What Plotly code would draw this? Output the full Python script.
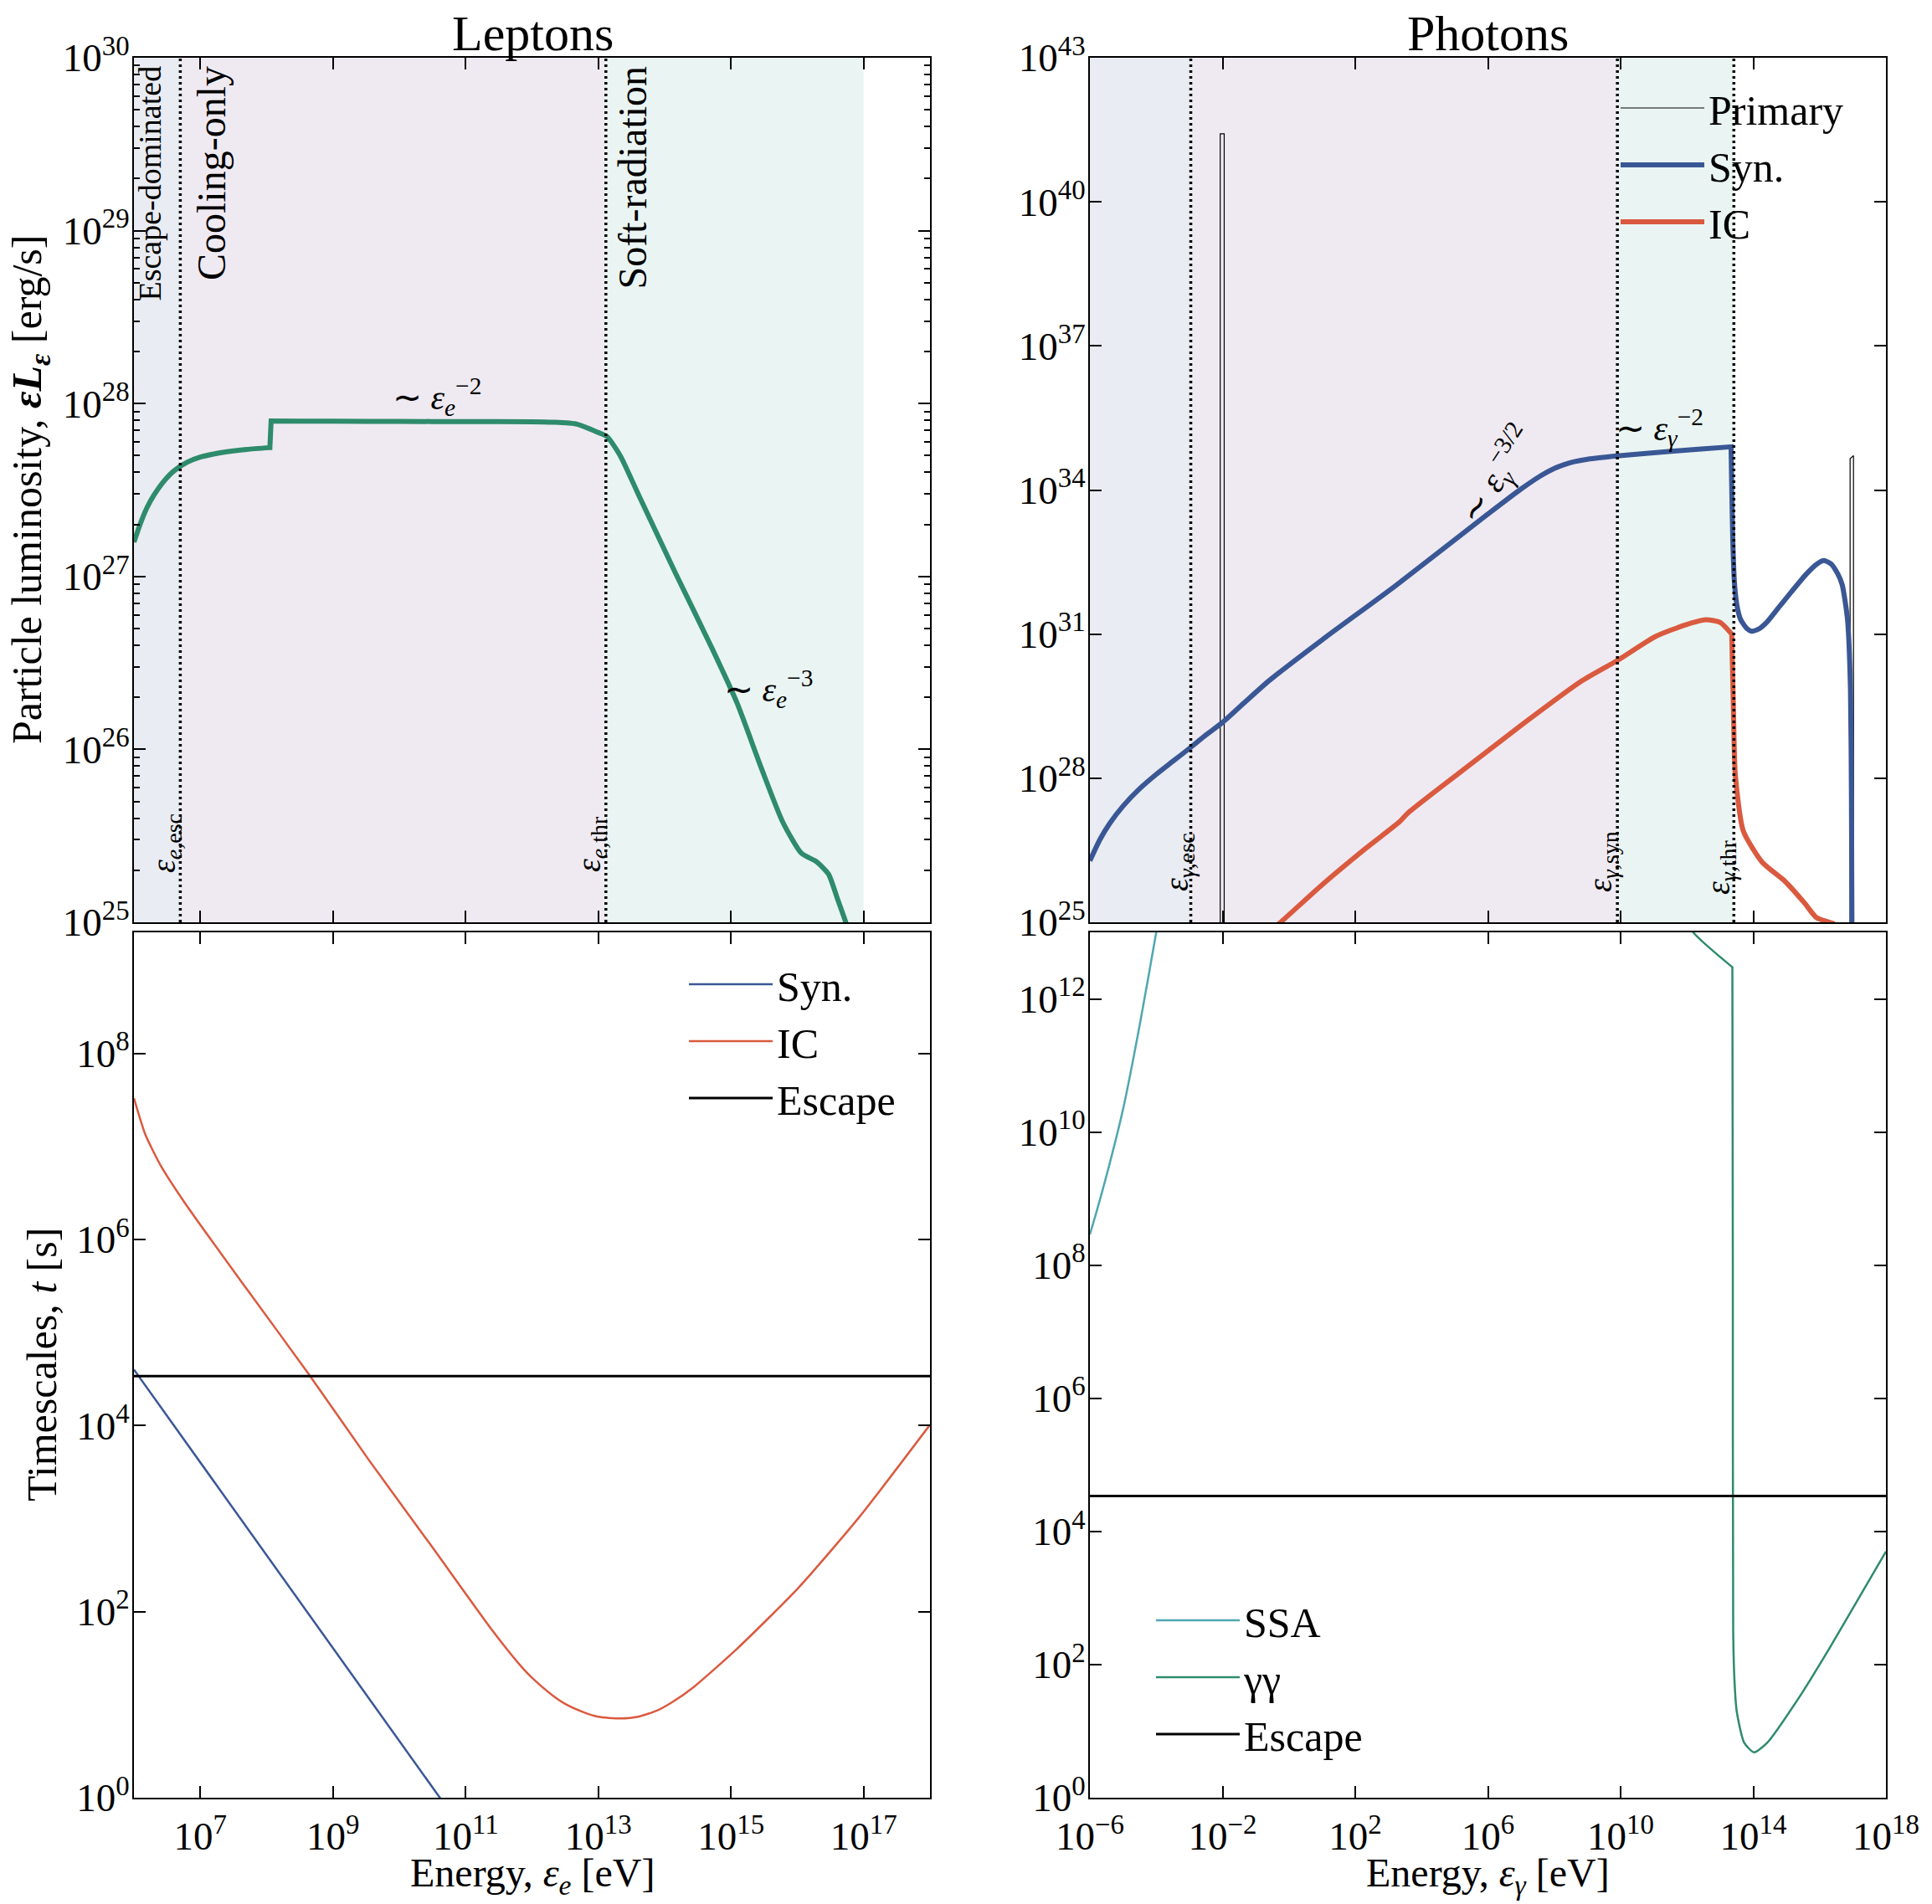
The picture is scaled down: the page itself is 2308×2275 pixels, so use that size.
import plotly.graph_objects as go

W, H = 2308, 2275
FONT = "Liberation Serif"

# ---------------- data ----------------
# Leptons: particle luminosity (top-left)
lep_E = [1.0e6, 1.26e6, 1.58e6, 2.0e6, 2.82e6, 3.98e6, 6.31e6, 1e7, 2.0e7, 5.01e7, 1.12e8,
         1.12e8, 1.17e8, 1.17e8, 1e9, 1e10, 1e11, 1e12, 2.04e12, 4.79e12, 1e13, 1.35e13,
         2.14e13, 4.07e13, 1.45e14, 5.25e14, 1.23e15, 2.88e15, 6.03e15, 1.15e16, 1.95e16,
         2.95e16, 4.07e16, 5.37e16, 6.3e16]
lep_L = [1.58e27, 2.04e27, 2.51e27, 2.95e27, 3.55e27, 4.07e27, 4.57e27, 4.9e27, 5.19e27,
         5.43e27, 5.56e27, 5.56e27, 7.94e27, 7.94e27, 7.9e27, 7.88e27, 7.87e27, 7.85e27,
         7.8e27, 7.6e27, 6.8e27, 6.45e27, 5.0e27, 2.95e27, 1.05e27, 3.8e26, 1.86e26,
         7.76e25, 3.8e25, 2.51e25, 2.24e25, 1.9e25, 1.35e25, 1.0e25, 8e24]

# Photons (top-right)
syn_E = [1e-6, 2.0e-6, 3.98e-6, 1e-5, 3.16e-5, 1e-4, 3.16e-4, 1e-3, 3.16e-3, 1e-2, 5.01e-2,
         0.251, 10, 1.58e3, 1e6, 1e7, 3.98e7, 1e8, 2.0e8, 3.98e8, 1e9, 7.94e9, 3.98e11,
         2.14e13, 2.14e13, 2.4e13, 2.75e13, 3.31e13, 4.17e13, 6.31e13, 8.91e13, 1.41e14,
         2.57e14, 5.75e14, 1.41e15, 3.98e15, 7.94e15, 1.35e16, 2.24e16, 3.55e16, 4.79e16,
         6.92e16, 8.51e16, 9.12e16, 9.55e16]
syn_L = [1.91e26, 5.25e26, 1.15e27, 2.63e27, 6.03e27, 1.2e28, 2.24e28, 4.17e28, 7.94e28,
         1.45e29, 3.98e29, 1.07e30, 7.59e30, 1e32, 3.16e33, 1.05e34, 2.0e34, 2.82e34,
         3.39e34, 3.89e34, 4.37e34, 5.13e34, 6.46e34, 7.94e34, 7.94e34, 1e33, 1e32, 3.55e31,
         2.0e31, 1.32e31, 1.15e31, 1.26e31, 1.78e31, 3.55e31, 7.59e31, 1.78e32, 2.82e32,
         3.39e32, 2.88e32, 1.78e32, 1.07e32, 2.04e31, 7.24e29, 3.16e27, 1e24]
ic_E = [0.251, 0.562, 10, 200, 2.14e3, 3.98e3, 1.26e5, 9.12e6, 6.61e8, 7.94e9, 1.12e11,
        9.55e11, 3.8e12, 1.02e13, 2.24e13, 2.24e13, 2.51e13, 2.88e13, 5.01e13, 1.86e14,
        9.12e14, 3.63e15, 7.94e15, 2.82e16]
ic_L = [6.3e24, 1e25, 6.03e25, 3.39e26, 1.23e27, 1.91e27, 1.23e28, 1.2e29, 1.05e30, 2.82e30,
        8.91e30, 1.58e31, 2.0e31, 1.74e31, 1e31, 1e31, 3.16e29, 1.15e28, 7.94e26, 1.78e26,
        7.08e25, 2.45e25, 1.26e25, 9.3e24]
prim_E = [8.5e-3, 8.5e-3, 1.12e-2, 1.12e-2, 8.3e16, 8.3e16, 1.05e17, 1.05e17]
prim_L = [1e20, 2.6e41, 2.6e41, 1e20, 1e20, 4.5e34, 5.2e34, 1e20]

# Lepton timescales (bottom-left)
tsyn_E = [1e6, 1e8, 4.1e10, 1e11]
tsyn_t = [4.0e4, 4.0e2, 1.0, 0.41]
tic_E = [1e6, 1.48e6, 2.51e6, 5.9e6, 4.9e7, 4.17e8, 3.47e9, 2.95e10, 2.45e11, 7.1e11, 1e12,
         2.04e12, 3.16e12, 6.0e12, 1e13, 2.14e13, 3.98e13, 7.8e13, 1.26e14, 2.75e14,
         1.23e15, 1.02e16, 8.7e16, 1e18]
tic_t = [3.3e7, 1.35e7, 6.3e6, 2.45e6, 3.0e5, 3.7e4, 4.27e3, 525, 64.6, 25.1, 19.5, 12.6,
         10.2, 8.3, 7.41, 7.1, 7.41, 8.7, 10.5, 15.5, 39.8, 178, 1.05e3, 1.02e4]
t_esc = 3.4e4
lep_E_range = [1e6, 1e18]

# Photon timescales (bottom-right)
ssa_E = [1e-6, 1.58e-6, 3.16e-6, 1e-5, 3.16e-5, 1e-4, 2e-4]
ssa_t = [2.9e8, 6.3e8, 2.2e9, 2.2e10, 4e11, 1e13, 8e13]
gg_E = [3.16e11, 1.55e12, 2.34e13, 2.34e13, 2.42e13, 2.48e13, 2.7e13, 3.16e13, 5.25e13,
        1.05e14, 2.7e14, 2.3e15, 1.95e16, 1.7e17, 1e18]
gg_t = [4e13, 1e13, 3.0e12, 3.0e12, 1e8, 316, 60, 20, 6.8, 4.8, 6.8, 31, 174, 1.1e3, 5.0e3]
ph_E_range = [1e-6, 1e18]

# characteristic energies
e_esc, e_thr, e_max = 5e6, 1.3e13, 1e17
g_esc, g_syn, g_thr = 1.1e-3, 8e9, 2.6e13

# tick exponents
lep_x_exp = [7, 9, 11, 13, 15, 17]
ph_x_exp = [-6, -2, 2, 6, 10, 14, 18]
tl_y_exp = [25, 26, 27, 28, 29, 30]
tr_y_exp = [25, 28, 31, 34, 37, 40, 43]
bl_y_exp = [0, 2, 4, 6, 8]
br_y_exp = [0, 2, 4, 6, 8, 10, 12]

# colours
C_GREEN = "#2E8B6B"
C_BLUE = "#3A5795"
C_RED = "#DA5A3F"
C_TEAL = "#4FA7AF"
C_REG_BLUE = "#E9ECF2"
C_REG_PURP = "#EFEAF2"
C_REG_TEAL = "#EAF5F3"


def pw(e):
    s = str(e).replace("-", "\u2212")
    return "10<sup>%s</sup>" % s


def px(x):
    return x / W


def py(y):
    return 1 - y / H


fig = go.Figure()

SPL = dict(shape="spline", smoothing=0.6, simplify=False)

# ---- traces ----
fig.add_trace(go.Scatter(x=lep_E, y=lep_L, mode="lines",
                         line=dict(color=C_GREEN, width=6, **SPL),
                         showlegend=False, xaxis="x", yaxis="y"))

fig.add_trace(go.Scatter(x=prim_E, y=prim_L, mode="lines", name="Primary",
                         line=dict(color="black", width=1.2), xaxis="x2", yaxis="y2",
                         legend="legend"))
fig.add_trace(go.Scatter(x=syn_E, y=syn_L, mode="lines", name="Syn.",
                         line=dict(color=C_BLUE, width=6, **SPL), xaxis="x2", yaxis="y2",
                         legend="legend"))
fig.add_trace(go.Scatter(x=ic_E, y=ic_L, mode="lines", name="IC",
                         line=dict(color=C_RED, width=6, **SPL), xaxis="x2", yaxis="y2",
                         legend="legend"))

fig.add_trace(go.Scatter(x=tsyn_E, y=tsyn_t, mode="lines", name="Syn.",
                         line=dict(color=C_BLUE, width=2.5), xaxis="x3", yaxis="y3",
                         legend="legend2"))
fig.add_trace(go.Scatter(x=tic_E, y=tic_t, mode="lines", name="IC",
                         line=dict(color=C_RED, width=2.5, **SPL), xaxis="x3", yaxis="y3",
                         legend="legend2"))
fig.add_trace(go.Scatter(x=lep_E_range, y=[t_esc, t_esc], mode="lines", name="Escape",
                         line=dict(color="black", width=3), xaxis="x3", yaxis="y3",
                         legend="legend2"))

fig.add_trace(go.Scatter(x=ssa_E, y=ssa_t, mode="lines", name="SSA",
                         line=dict(color=C_TEAL, width=2.5, **SPL), xaxis="x4", yaxis="y4",
                         legend="legend3"))
fig.add_trace(go.Scatter(x=gg_E, y=gg_t, mode="lines", name="\u03b3\u03b3",
                         line=dict(color=C_GREEN, width=2.5, **SPL), xaxis="x4", yaxis="y4",
                         legend="legend3"))
fig.add_trace(go.Scatter(x=ph_E_range, y=[t_esc, t_esc], mode="lines", name="Escape",
                         line=dict(color="black", width=3), xaxis="x4", yaxis="y4",
                         legend="legend3"))

# ---- shaded regions and dotted boundaries ----
regions = [
    ("x", "y domain", lep_E_range[0], e_esc, C_REG_BLUE),
    ("x", "y domain", e_esc, e_thr, C_REG_PURP),
    ("x", "y domain", e_thr, e_max, C_REG_TEAL),
    ("x2", "y2 domain", ph_E_range[0], g_esc, C_REG_BLUE),
    ("x2", "y2 domain", g_esc, g_syn, C_REG_PURP),
    ("x2", "y2 domain", g_syn, g_thr, C_REG_TEAL),
]
for xr, yr, a, b, c in regions:
    fig.add_shape(type="rect", xref=xr, yref=yr, x0=a, x1=b, y0=0, y1=1,
                  fillcolor=c, line=dict(width=0), layer="below")

for xr, yr, v in [("x", "y domain", e_esc), ("x", "y domain", e_thr),
                  ("x2", "y2 domain", g_esc), ("x2", "y2 domain", g_syn),
                  ("x2", "y2 domain", g_thr)]:
    fig.add_shape(type="line", xref=xr, yref=yr, x0=v, x1=v, y0=0, y1=1,
                  line=dict(color="black", width=3.5, dash="3px,4px"), layer="above")

# ---- axes ----
base = dict(type="log", showline=True, linecolor="black", linewidth=2, mirror="allticks",
            ticks="inside", ticklen=14, tickwidth=2, tickcolor="black", showgrid=False,
            zeroline=False, tickfont=dict(family=FONT, size=47, color="black"),
            tickmode="array", automargin=False)

XL = [px(160), px(1111)]
XR = [px(1302), px(2253)]
YT = [py(1102), py(69)]
YB = [py(2148), py(1114)]

tl_minor = [k * 10.0 ** e for e in tl_y_exp[:-1] for k in range(2, 10)]
YSO = -6
XSO = 4

fig.update_layout(
    xaxis=dict(base, domain=XL, anchor="y", range=[6, 18], showticklabels=False,
               tickvals=[10.0 ** e for e in lep_x_exp]),
    yaxis=dict(base, domain=YT, anchor="x", range=[25, 30],
               tickvals=[10.0 ** e for e in tl_y_exp], ticktext=[pw(e) for e in tl_y_exp],
               ticklabelstandoff=YSO,
               minor=dict(tickmode="array", tickvals=tl_minor, ticks="inside", ticklen=7,
                          tickwidth=1.5, tickcolor="black")),
    xaxis2=dict(base, domain=XR, anchor="y2", range=[-6, 18], showticklabels=False,
                tickvals=[10.0 ** e for e in ph_x_exp]),
    yaxis2=dict(base, domain=YT, anchor="x2", range=[25, 43],
                tickvals=[10.0 ** e for e in tr_y_exp], ticktext=[pw(e) for e in tr_y_exp],
                ticklabelstandoff=YSO),
    xaxis3=dict(base, domain=XL, anchor="y3", range=[6, 18],
                tickvals=[10.0 ** e for e in lep_x_exp], ticktext=[pw(e) for e in lep_x_exp],
                ticklabelstandoff=XSO),
    yaxis3=dict(base, domain=YB, anchor="x3", range=[0, 9.301],
                tickvals=[10.0 ** e for e in bl_y_exp], ticktext=[pw(e) for e in bl_y_exp],
                ticklabelstandoff=YSO),
    xaxis4=dict(base, domain=XR, anchor="y4", range=[-6, 18],
                tickvals=[10.0 ** e for e in ph_x_exp], ticktext=[pw(e) for e in ph_x_exp],
                ticklabelstandoff=XSO),
    yaxis4=dict(base, domain=YB, anchor="x4", range=[0, 13],
                tickvals=[10.0 ** e for e in br_y_exp], ticktext=[pw(e) for e in br_y_exp],
                ticklabelstandoff=YSO),
)

legend_base = dict(bgcolor="rgba(0,0,0,0)", borderwidth=0, xanchor="left", yanchor="top",
                   font=dict(family=FONT, size=50, color="black"), itemwidth=100,
                   tracegroupgap=0)
fig.update_layout(
    legend=dict(legend_base, x=px(1931), y=py(90)),
    legend2=dict(legend_base, x=px(818), y=py(1137)),
    legend3=dict(legend_base, x=px(1376), y=py(1897)),
)

# ---- text ----
ann = []


def add_text(text, x, y, size, angle=0, xanchor="center", yanchor="middle"):
    ann.append(dict(text=text, x=px(x), y=py(y), xref="paper", yref="paper",
                    showarrow=False, textangle=angle, xanchor=xanchor, yanchor=yanchor,
                    font=dict(family=FONT, size=size, color="black")))


add_text("Leptons", 636, 40, 60)
add_text("Photons", 1777, 40, 60)
add_text("Particle luminosity, <b><i>\u03b5L</i></b><sub><b><i>\u03b5</i></b></sub> [erg/s]",
         36, 585, 50, angle=-90)
add_text("Timescales, <i>t</i> [s]", 50, 1631, 50, angle=-90)
add_text("Energy, <i>\u03b5</i><sub><i>e</i></sub> [eV]", 636, 2241, 48)
add_text("Energy, <i>\u03b5</i><sub><i>\u03b3</i></sub> [eV]", 1777, 2241, 48)

add_text("Escape-dominated", 178, 77, 38, angle=-90, yanchor="top")
add_text("Cooling-only", 252, 77, 48, angle=-90, yanchor="top")
add_text("Soft-radiation", 755, 77, 48, angle=-90, yanchor="top")

add_text("<i>\u03b5</i><sub><i>e</i>,esc</sub>", 198, 1008, 40, angle=-90)
add_text("<i>\u03b5</i><sub><i>e</i>,thr</sub>", 706, 1008, 40, angle=-90)
add_text("<i>\u03b5</i><sub><i>\u03b3</i>,esc</sub>", 1408, 1030, 40, angle=-90)
add_text("<i>\u03b5</i><sub><i>\u03b3</i>,syn</sub>", 1914, 1030, 40, angle=-90)
add_text("<i>\u03b5</i><sub><i>\u03b3</i>,thr</sub>", 2055, 1036, 40, angle=-90)

add_text("\u223c <i>\u03b5</i><sub><i>e</i></sub><sup>\u22122</sup>", 522, 474, 42)
add_text("\u223c <i>\u03b5</i><sub><i>e</i></sub><sup>\u22123</sup>", 918, 823, 42)
add_text("\u223c <i>\u03b5</i><sub><i>\u03b3</i></sub><sup>\u22122</sup>", 1982, 511, 42)
add_text("\u223c <i>\u03b5</i><sub><i>\u03b3</i></sub><sup>\u22123/2</sup>", 1788, 567, 42,
         angle=-57)

fig.update_layout(
    annotations=ann,
    width=W, height=H, autosize=False,
    margin=dict(l=0, r=0, t=0, b=0),
    paper_bgcolor="white", plot_bgcolor="white",
    font=dict(family=FONT, size=50, color="black"),
)

fig.write_html("out.html")
